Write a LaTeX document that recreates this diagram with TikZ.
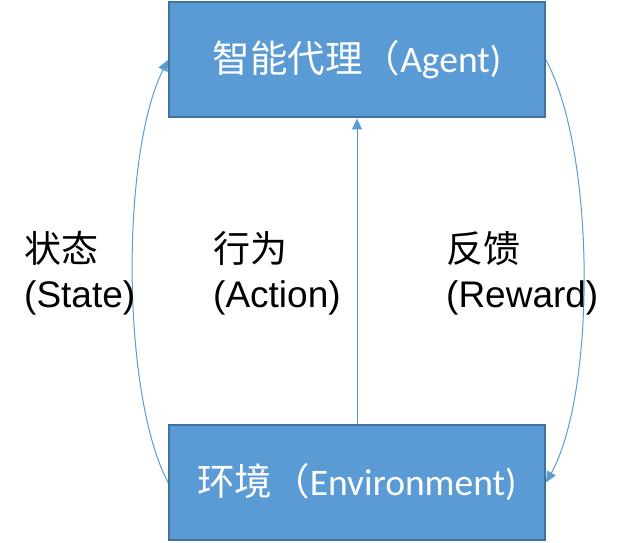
\documentclass[tikz,border=0pt]{standalone}
\usepackage{fontspec}
\setmainfont{Liberation Sans}
\newfontfamily\cjk{Noto Sans CJK SC}
\newfontfamily\carl{Carlito}
\usetikzlibrary{arrows.meta}
\definecolor{boxfill}{HTML}{5B9BD5}
\definecolor{boxline}{HTML}{41719C}
\definecolor{arrowc}{HTML}{5B9BD5}
\tikzset{
  bigbox/.style={draw=boxline, line width=2pt, fill=boxfill, text=white, minimum width=376pt, minimum height=115pt, inner sep=0pt, font=\fontsize{37.5}{42}\selectfont},
  lbl/.style={anchor=base west, inner sep=0pt, font=\fontsize{37}{44}\selectfont},
  conn/.style={draw=arrowc, line width=1pt, -{Triangle[length=11pt,width=10pt]}}
}
\begin{document}
\begin{tikzpicture}[x=1pt,y=1pt]
\useasboundingbox (0,0) rectangle (625,543);
\node[bigbox] (agent) at (357,483) {{\cjk 智能代理（}{\carl Agent)}};
\node[bigbox] (env) at (357,60.5) {{\cjk 环境（}{\carl Environment)}};
\draw[conn] (env.north) -- (agent.south);
\draw[conn] (env.west) .. controls (121,150) and (121,390) .. (agent.west);
\draw[conn] (agent.east) .. controls (596,390) and (596,150) .. (env.east);
\node[lbl] (stateCN) at (24,280) {{\cjk 状态}};
\node[lbl] (stateEN) at (24,235) {(State)};
\node[lbl] (actCN) at (213,280) {{\cjk 行为}};
\node[lbl] (actEN) at (213,235) {(Action)};
\node[lbl] (rewCN) at (446,280) {{\cjk 反馈}};
\node[lbl] (rewEN) at (446,235) {(Reward)};
\end{tikzpicture}
\end{document}
